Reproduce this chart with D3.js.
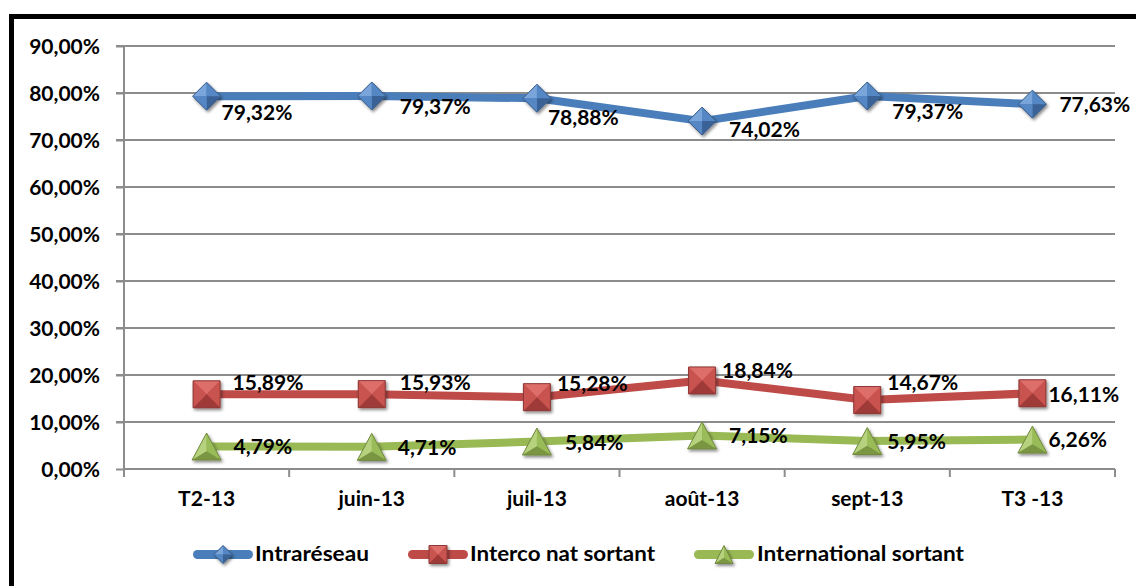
<!DOCTYPE html>
<html>
<head>
<meta charset="utf-8">
<script src="https://cdn.jsdelivr.net/npm/d3@7"></script>
<style>
  html, body { margin: 0; padding: 0; background: #fff; }
  svg { display: block; }
  text { font-family: Lato, "Open Sans", "Liberation Sans", sans-serif; font-weight: 700; fill: #000; }
</style>
</head>
<body>
<svg id="chart" width="1136" height="586"></svg>
<script>
// ---- data ----
const categories = ["T2-13", "juin-13", "juil-13", "août-13", "sept-13", "T3 -13"];
const intrareseau = [79.32, 79.37, 78.88, 74.02, 79.37, 77.63];
const intercoNat = [15.89, 15.93, 15.28, 18.84, 14.67, 16.11];
const internationalSortant = [4.79, 4.71, 5.84, 7.15, 5.95, 6.26];
const seriesNames = ["Intraréseau", "Interco nat sortant", "International sortant"];
const yTickValues = [0, 10, 20, 30, 40, 50, 60, 70, 80, 90];

// ---- layout / style (not data) ----
const W = 1136, H = 586;
const plot = { left: 124, right: 1115, top: 46, bottom: 469 };
const FS = 21;
// label offsets (dx to text start, dy to baseline) relative to marker centre
const blueLabelOffsets = [[15, 24], [28, 18], [11, 27], [27, 16], [25, 23], [27, 8]];
const redLabelOffsets = [[26, -4], [28, -4], [20, -6], [20, -2], [20, -10], [16, 9]];
const greenLabelOffsets = [[27, 8], [26, 8], [28, 8], [27, 8], [20, 8], [16, 7]];

const styles = [
  { line: "#4A7EBB", base: "#4F81BD", light: "#7AA5DA", mid: "#5487C4", dark: "#3A6296", stroke: "#385D8A", shape: "diamond" },
  { line: "#BE4B48", base: "#C0504D", light: "#DE6E6A", mid: "#C8524F", dark: "#9E3A37", stroke: "#8C3836", shape: "square" },
  { line: "#98B954", base: "#9BBB59", light: "#B6D27E", mid: "#9ABC58", dark: "#7A9643", stroke: "#71893F", shape: "triangle" }
];

const seriesData = [intrareseau, intercoNat, internationalSortant];
const labelOffsets = [blueLabelOffsets, redLabelOffsets, greenLabelOffsets];

const svg = d3.select("#chart");

// defs: shadow
const defs = svg.append("defs");
const f = defs.append("filter").attr("id", "shadow").attr("x", "-50%").attr("y", "-50%").attr("width", "200%").attr("height", "200%");
f.append("feDropShadow").attr("dx", 1.5).attr("dy", 2).attr("stdDeviation", 1.6).attr("flood-color", "#000").attr("flood-opacity", 0.45);

svg.append("rect").attr("width", W).attr("height", H).attr("fill", "#fff");

// frame
svg.append("rect").attr("x", 11.5).attr("y", 16.5).attr("width", 1300).attr("height", 800)
  .attr("fill", "none").attr("stroke", "#000").attr("stroke-width", 5);

// scales
const x = d3.scaleBand().domain(categories).range([plot.left, plot.right]).padding(0);
const cx = c => x(c) + x.bandwidth() / 2;
const y = d3.scaleLinear().domain([0, 90]).range([plot.bottom, plot.top]);

const fmt = v => d3.format(".2f")(v).replace(".", ",") + "%";

// gridlines
svg.append("g").selectAll("line").data(yTickValues.filter(d => d > 0)).join("line")
  .attr("x1", plot.left - 8).attr("x2", plot.right)
  .attr("y1", d => y(d)).attr("y2", d => y(d))
  .attr("stroke", "#8C8C8C").attr("stroke-width", 2);

// y axis
const yAxis = svg.append("g").attr("transform", `translate(${plot.left},0)`)
  .call(d3.axisLeft(y).tickValues(yTickValues).tickSize(8).tickPadding(16).tickFormat(fmt));
yAxis.select(".domain").attr("stroke", "#8C8C8C").attr("stroke-width", 2).attr("d", `M0,${plot.top}V${plot.bottom}`);
yAxis.selectAll(".tick line").attr("stroke", "#8C8C8C").attr("stroke-width", 2);
yAxis.selectAll(".tick text").attr("font-size", FS).attr("font-family", "Lato").attr("font-weight", 700).attr("fill", "#000").attr("dy", "0.36em");

// x axis
const xAxis = svg.append("g").attr("transform", `translate(0,${plot.bottom})`)
  .call(d3.axisBottom(x).tickSize(0).tickPadding(22));
xAxis.select(".domain").attr("stroke", "#8C8C8C").attr("stroke-width", 2).attr("d", `M${plot.left},0H${plot.right}`);
xAxis.selectAll(".tick text").attr("font-size", FS).attr("font-family", "Lato").attr("font-weight", 700).attr("fill", "#000");
// ticks between categories
const boundaries = categories.map(c => x(c)).concat([x.range()[1]]);
xAxis.append("g").selectAll("line").data(boundaries).join("line")
  .attr("x1", d => d).attr("x2", d => d).attr("y1", 0).attr("y2", 8)
  .attr("stroke", "#8C8C8C").attr("stroke-width", 2);

// marker drawing
function drawMarker(g, shape, st, sx, sy) {
  const m = g.append("g").attr("filter", "url(#shadow)");
  const poly = pts => "M" + pts.map(p => p.join(",")).join("L") + "Z";
  if (shape === "diamond") {
    const T = [0, -sy], R = [sx, 0], B = [0, sy], L = [-sx, 0], C = [0, 0];
    m.append("path").attr("d", poly([T, R, B, L])).attr("fill", st.base);
    m.append("path").attr("d", poly([L, T, C])).attr("fill", st.light);
    m.append("path").attr("d", poly([T, R, C])).attr("fill", st.mid);
    m.append("path").attr("d", poly([R, B, C])).attr("fill", st.dark);
    m.append("path").attr("d", poly([B, L, C])).attr("fill", st.mid);
    m.append("path").attr("d", poly([T, R, B, L])).attr("fill", "none").attr("stroke", st.stroke).attr("stroke-width", 1);
  } else if (shape === "square") {
    const TL = [-sx, -sy], TR = [sx, -sy], BR = [sx, sy], BL = [-sx, sy], C = [0, 0];
    m.append("path").attr("d", poly([TL, TR, BR, BL])).attr("fill", st.base);
    m.append("path").attr("d", poly([TL, TR, C])).attr("fill", st.light);
    m.append("path").attr("d", poly([TR, BR, C])).attr("fill", st.mid);
    m.append("path").attr("d", poly([BR, BL, C])).attr("fill", st.dark);
    m.append("path").attr("d", poly([BL, TL, C])).attr("fill", st.mid);
    m.append("path").attr("d", poly([TL, TR, BR, BL])).attr("fill", "none").attr("stroke", st.stroke).attr("stroke-width", 1);
  } else {
    const A = [0, -sy], BL = [-sx, sy], BR = [sx, sy], C = [0, sy * 0.35];
    m.append("path").attr("d", poly([A, BR, BL])).attr("fill", st.base);
    m.append("path").attr("d", poly([A, BL, C])).attr("fill", st.light);
    m.append("path").attr("d", poly([A, BR, C])).attr("fill", st.mid);
    m.append("path").attr("d", poly([BL, BR, C])).attr("fill", st.dark);
    m.append("path").attr("d", poly([A, BR, BL])).attr("fill", "none").attr("stroke", st.stroke).attr("stroke-width", 1);
  }
  return m;
}

const markerSize = [[14, 14], [13.5, 13.5], [14.5, 13.5]];

// series lines
const line = d3.line().x((d, i) => cx(categories[i])).y(d => y(d));
seriesData.forEach((vals, si) => {
  svg.append("path").datum(vals).attr("d", line)
    .attr("fill", "none").attr("stroke", styles[si].line).attr("stroke-width", 8)
    .attr("stroke-linejoin", "round");
});

// markers
seriesData.forEach((vals, si) => {
  const st = styles[si];
  vals.forEach((v, i) => {
    const g = svg.append("g").attr("transform", `translate(${cx(categories[i])},${y(v)})`);
    drawMarker(g, st.shape, st, markerSize[si][0], markerSize[si][1]);
  });
});
// labels
seriesData.forEach((vals, si) => {
  vals.forEach((v, i) => {
    const off = labelOffsets[si][i];
    svg.append("text")
      .attr("x", cx(categories[i]) + off[0])
      .attr("y", y(v) + off[1])
      .attr("font-size", FS)
      .text(fmt(v));
  });
});

// legend
const legendItems = [
  { lx: 193, tx: 255, tw: 114 },
  { lx: 408, tx: 470, tw: 185 },
  { lx: 694, tx: 757, tw: 207 }
];
const legendY = 554.5;
const lg = svg.append("g");
seriesNames.forEach((name, si) => {
  const it = legendItems[si];
  lg.append("line").attr("x1", it.lx + 4.5).attr("x2", it.lx + 55.5).attr("y1", legendY).attr("y2", legendY)
    .attr("stroke", styles[si].line).attr("stroke-width", 9).attr("stroke-linecap", "round");
  const g = lg.append("g").attr("transform", `translate(${it.lx + 30},${legendY})`);
  drawMarker(g, styles[si].shape, styles[si], 9, 9);
  lg.append("text").attr("x", it.tx).attr("y", 561)
    .attr("font-size", FS).attr("textLength", it.tw).attr("lengthAdjust", "spacingAndGlyphs")
    .text(name);
});
</script>
</body>
</html>
